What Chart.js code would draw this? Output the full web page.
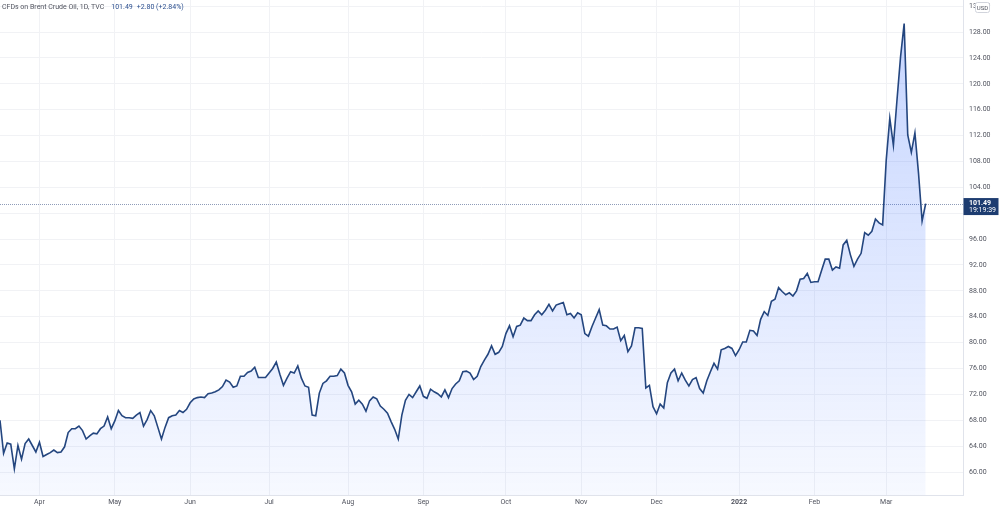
<!DOCTYPE html>
<html>
<head>
<meta charset="utf-8">
<title>CFDs on Brent Crude Oil</title>
<script src="https://cdn.jsdelivr.net/npm/chart.js@4.4.1/dist/chart.umd.min.js"></script>
<style>
  html, body { margin: 0; padding: 0; background: #fff; }
  #wrap { width: 1000px; height: 509px; position: relative; }
</style>
</head>
<body>
<div id="wrap"><canvas id="brentChart" width="1000" height="509"></canvas></div>
<script>
// daily closes (mid-March 2021 -> mid-March 2022)
const closes = [
  68.0, 62.9, 64.5, 64.3, 60.5, 64.1, 62.0, 64.4, 65.1, 64.1, 63.1, 64.6, 62.4, 62.7, 63.0, 63.4,
  63.0, 63.1, 63.9, 66.1, 66.7, 66.7, 67.1, 66.4, 65.1, 65.6, 66.0, 65.9, 66.7, 67.1, 68.5, 66.7,
  67.9, 69.5, 68.7, 68.4, 68.4, 68.3, 68.8, 69.2, 67.1, 68.1, 69.5, 68.7, 66.9, 65.1, 66.9, 68.4,
  68.7, 68.8, 69.5, 69.2, 69.7, 70.7, 71.3, 71.5, 71.6, 71.5, 72.1, 72.2, 72.4, 72.7, 73.2, 74.2,
  73.9, 73.1, 73.3, 74.8, 74.8, 75.4, 75.6,
  76.2, 74.6, 74.6, 74.6, 75.3, 76.0, 77.0, 75.1, 73.4, 74.5, 75.5, 75.3, 76.4, 74.5, 73.3, 73.1,
  68.8, 68.7, 72.2, 73.7, 74.1, 74.8, 74.8, 74.9, 75.9, 75.3, 73.4, 72.4, 70.5, 71.1, 70.5, 69.4,
  71.0, 71.6, 71.3, 70.2, 69.7, 69.1, 67.8, 66.6, 65.1, 68.8, 71.1, 72.0, 71.5, 72.4, 73.3, 71.7,
  71.4, 72.8, 72.4, 72.1, 71.6, 72.7, 71.5, 72.9, 73.6, 74.1, 75.5, 75.6, 75.3, 74.3, 74.8, 76.3,
  77.3, 78.2, 79.5, 78.2, 78.5,
  79.4, 81.4, 82.6, 80.9, 82.5, 82.7, 83.8, 83.4, 83.4, 84.3, 84.9, 84.3, 85.0, 85.9, 84.9, 85.8,
  86.0, 86.2, 84.3, 84.5, 83.8, 84.6, 84.3, 81.4, 81.0, 82.5, 83.8, 85.1, 82.7, 82.6, 82.1, 82.1,
  82.4, 80.3, 81.1, 78.6, 79.5, 82.3, 82.3, 82.2, 73.0, 73.4, 70.1, 69.0, 70.5, 69.9, 73.8, 75.3,
  75.9, 74.1, 75.3, 74.2, 73.3, 74.3, 74.6,
  72.9, 72.2, 74.1, 75.5, 76.8, 75.9, 78.9, 79.1, 79.4, 79.1, 78.0, 78.9, 80.1, 80.1, 81.9, 81.8,
  81.1, 83.6, 84.8, 84.2, 86.4, 86.7, 88.5, 87.9, 87.4, 87.7, 87.2, 88.0, 89.8, 89.9, 90.7, 89.3,
  89.4, 89.4, 91.2, 92.9, 92.9, 91.2, 91.7, 91.5, 95.1, 95.8, 93.6, 91.8, 92.9, 93.8, 97.0, 96.6,
  97.2, 99.1, 98.5, 98.2,
  108.2, 114.7, 110.5, 117.5, 124.2, 129.3, 112.1, 109.4, 112.4, 106.2, 98.8, 101.49
];

// bar index of the first session of each month
const monthLabels = ['Apr', 'May', 'Jun', 'Jul', 'Aug', 'Sep', 'Oct', 'Nov', 'Dec', '2022', 'Feb', 'Mar'];
const monthBars = [11, 32, 53, 75, 97, 118, 141, 162, 183, 206, 227, 247];

const priceTicks = [60, 64, 68, 72, 76, 80, 84, 88, 92, 96, 100, 104, 108, 112, 116, 120, 124, 128, 132];

const symbolName = 'CFDs on Brent Crude Oil, 1D, TVC';
const lastPrice = 101.49;
const lastChange = 2.80;
const lastChangePct = 2.84;
const countdown = '19:19:39';

const FONT = 'Roboto, "Noto Sans", sans-serif';

const tvOverlay = {
  id: 'tvOverlay',
  beforeDatasetsDraw(chart) {
    const { ctx, chartArea, scales } = chart;
    const y = Math.round(scales.y.getPixelForValue(lastPrice)) + 0.5;
    ctx.save();
    ctx.strokeStyle = '#8f9cb8';
    ctx.lineWidth = 1;
    ctx.setLineDash([1, 1]);
    ctx.beginPath();
    ctx.moveTo(chartArea.left, y);
    ctx.lineTo(chartArea.right, y);
    ctx.stroke();
    ctx.restore();
  },
  afterDraw(chart) {
    const { ctx, chartArea, scales } = chart;
    const y = scales.y.getPixelForValue(lastPrice);
    ctx.save();

    // last price badge on the price scale
    ctx.fillStyle = '#1d3c70';
    ctx.fillRect(chartArea.right + 0.5, y - 5.5, 35, 17);
    ctx.fillStyle = '#ffffff';
    ctx.font = 'bold 7px ' + FONT;
    ctx.textBaseline = 'middle';
    ctx.textAlign = 'left';
    ctx.fillText(lastPrice.toFixed(2), chartArea.right + 6, y - 0.5);
    ctx.font = '7px ' + FONT;
    ctx.fillText(countdown, chartArea.right + 6, y + 6.5);

    // currency badge
    ctx.fillStyle = '#ffffff';
    ctx.strokeStyle = '#d1d4dc';
    ctx.lineWidth = 1;
    ctx.beginPath();
    ctx.roundRect(975.5, 2.5, 14, 10, 2);
    ctx.fill();
    ctx.stroke();
    ctx.fillStyle = '#50535e';
    ctx.font = '6px ' + FONT;
    ctx.textAlign = 'center';
    ctx.fillText('USD', 982.5, 8);

    // legend line
    ctx.textAlign = 'left';
    ctx.font = '7px ' + FONT;
    ctx.fillStyle = '#50535e';
    ctx.fillText(symbolName, 2, 7);
    let x = 2 + ctx.measureText(symbolName).width + 7;
    ctx.fillStyle = '#2b4f8f';
    const priceTxt = lastPrice.toFixed(2);
    ctx.fillText(priceTxt, x, 7);
    x += ctx.measureText(priceTxt).width + 4;
    ctx.fillText('+' + lastChange.toFixed(2) + ' (+' + lastChangePct.toFixed(2) + '%)', x, 7);
    ctx.restore();
  }
};

const ctx = document.getElementById('brentChart').getContext('2d');

new Chart(ctx, {
  type: 'line',
  data: {
    datasets: [{
      label: 'Brent',
      data: closes.map((v, i) => ({ x: i, y: v })),
      borderColor: '#24467f',
      borderWidth: 1.6,
      pointRadius: 0,
      tension: 0,
      fill: 'start',
      backgroundColor: (c) => {
        const area = c.chart.chartArea;
        if (!area) return 'rgba(41,98,255,0.12)';
        const g = c.chart.ctx.createLinearGradient(0, area.top, 0, area.bottom);
        g.addColorStop(0, 'rgba(41,98,255,0.28)');
        g.addColorStop(1, 'rgba(41,98,255,0.04)');
        return g;
      }
    }]
  },
  options: {
    responsive: false,
    animation: false,
    layout: { padding: 0 },
    plugins: {
      legend: { display: false },
      tooltip: { enabled: false }
    },
    scales: {
      x: {
        type: 'linear',
        min: 0,
        max: 268.4,
        afterBuildTicks: (scale) => {
          scale.ticks = monthBars.map(v => ({ value: v }));
        },
        afterFit: (scale) => {
          scale.height = 14;
          scale.paddingLeft = 0;
          scale.paddingRight = 0;
        },
        grid: { color: '#f1f2f5', drawTicks: false },
        border: { display: true, color: '#e0e3eb' },
        ticks: {
          autoSkip: false,
          maxRotation: 0,
          padding: 3,
          color: '#50535e',
          font: (c) => ({ family: FONT, size: 7, weight: c.index === 9 ? 'bold' : 'normal' }),
          callback: (v, i) => monthLabels[i]
        }
      },
      y: {
        position: 'right',
        min: 56.45,
        max: 132.95,
        afterBuildTicks: (scale) => {
          scale.ticks = priceTicks.map(v => ({ value: v }));
        },
        afterFit: (scale) => {
          scale.width = 37;
          scale.paddingTop = 0;
          scale.paddingBottom = 0;
        },
        grid: { color: '#f1f2f5', drawTicks: false },
        border: { display: true, color: '#e0e3eb' },
        ticks: {
          padding: 6,
          color: '#50535e',
          font: { family: FONT, size: 7 },
          callback: (v) => v.toFixed(2)
        }
      }
    }
  },
  plugins: [tvOverlay]
});
</script>
</body>
</html>
